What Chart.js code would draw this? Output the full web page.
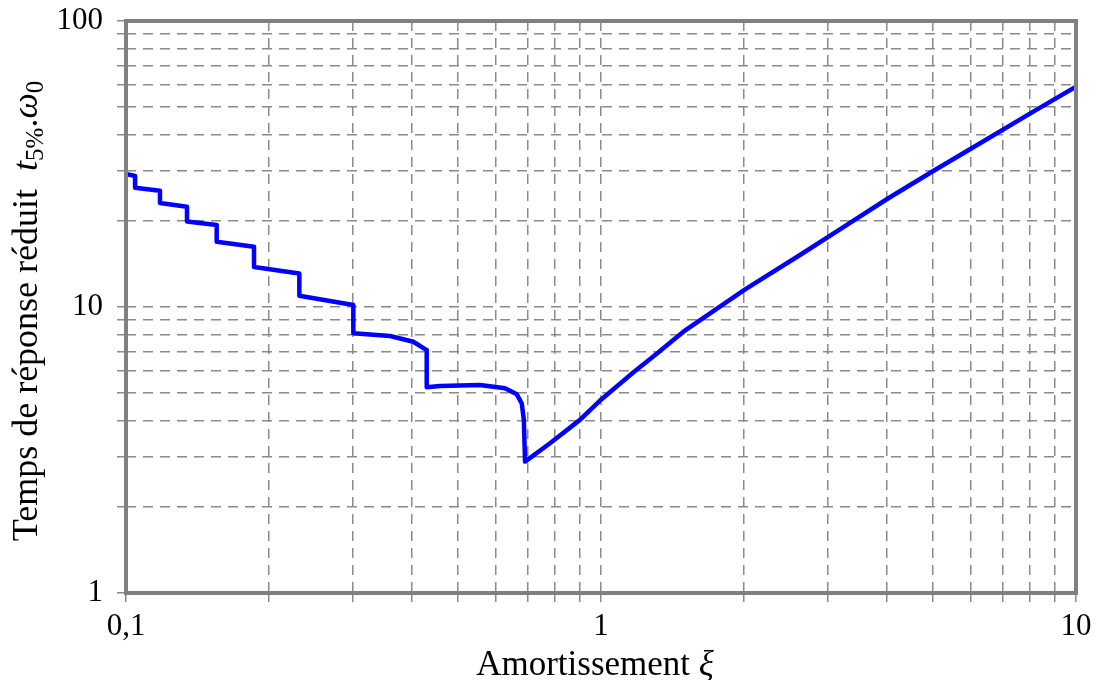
<!DOCTYPE html>
<html lang="fr">
<head>
    <meta charset="UTF-8">
    <title>Temps de réponse réduit</title>
    <script src="https://cdn.jsdelivr.net/npm/chart.js"></script>
    <style>
        html, body { margin: 0; padding: 0; background: #fff; }
        #wrap { width: 1098px; height: 680px; }
    </style>
</head>
<body>
    <div id="wrap"><canvas id="settlingChart" width="1098" height="680"></canvas></div>

    <script>
    // amortissement xi and reduced 5% settling time t5%.w0
    const dampingXi = [0.1, 0.1045, 0.1045, 0.1179, 0.1179, 0.1344, 0.1344, 0.1552, 0.1552, 0.186, 0.186,
        0.2317, 0.2317, 0.301, 0.301, 0.3596, 0.4025, 0.4296, 0.4296, 0.458, 0.556, 0.628, 0.665, 0.681, 0.688, 0.692,
        0.781, 0.903, 1.0, 1.169, 1.3, 1.491, 2.011, 2.624, 3.344, 4.026, 5.006, 6.08, 8.13, 10];
    const responseTime = [29.2, 28.7, 26.1, 25.5, 23.1, 22.4, 19.9, 19.35, 16.9, 16.25, 13.8,
        13.1, 10.95, 10.16, 8.09, 7.92, 7.56, 7.07, 5.24, 5.29, 5.34, 5.2, 4.95, 4.6, 4.03, 2.88,
        3.34, 4.03, 4.74, 5.9, 6.8, 8.2, 11.53, 15.2, 19.7, 24.0, 29.9, 36.2, 48.2, 58.9];

    const xDecades = [0.1, 1, 10];
    const yDecades = [1, 10, 100];
    const xLabels = {0.1: '0,1', 1: '1', 10: '10'};
    const yLabels = {1: '1', 10: '10', 100: '100'};

    const serif = "'Liberation Serif', 'Times New Roman', serif";
    const gridColor = '#8a8a8a';

    function logTicks(decades) {
        let out = [];
        for (let i = 0; i < decades.length - 1; i++) {
            for (let m = 1; m <= 9; m++) out.push({value: Number((m * decades[i]).toPrecision(3))});
        }
        out.push({value: decades[decades.length - 1]});
        return out;
    }

    // frame + axis titles with math parts
    const framePlugin = {
        id: 'frame',
        afterDatasetsDraw(chart) {
            const a = chart.chartArea, ctx = chart.ctx;
            ctx.save();
            ctx.strokeStyle = '#808080';
            ctx.lineWidth = 4;
            ctx.strokeRect(a.left, a.top, a.right - a.left, a.bottom - a.top);
            ctx.restore();
        },
        afterDraw(chart) {
            const a = chart.chartArea, ctx = chart.ctx;
            const drawPieces = (pieces, cx, baseY) => {
                let total = 0;
                pieces.forEach(p => { ctx.font = p.font; p.w = ctx.measureText(p.text).width; total += p.w; });
                let x = cx - total / 2;
                pieces.forEach(p => {
                    ctx.font = p.font;
                    ctx.fillText(p.text, x, baseY + (p.dy || 0));
                    x += p.w;
                });
            };
            ctx.save();
            ctx.fillStyle = '#000';
            ctx.textBaseline = 'alphabetic';
            ctx.textAlign = 'left';
            drawPieces([
                {text: 'Amortissement ', font: '35px ' + serif},
                {text: 'ξ', font: 'italic 35px ' + serif}
            ], 595, 675);

            ctx.translate(37, (a.top + a.bottom) / 2 + 4);
            ctx.rotate(-Math.PI / 2);
            drawPieces([
                {text: 'Temps de réponse réduit  ', font: '36px ' + serif},
                {text: 't', font: 'italic 36px ' + serif},
                {text: '5%', font: '25px ' + serif, dy: 6},
                {text: '.', font: '36px ' + serif},
                {text: 'ω', font: 'italic 36px ' + serif},
                {text: '0', font: '25px ' + serif, dy: 6}
            ], 0, 0);
            ctx.restore();
        }
    };

    const ctx = document.getElementById('settlingChart').getContext('2d');
    new Chart(ctx, {
        type: 'scatter',
        data: {
            datasets: [{
                label: 't5%.w0',
                data: dampingXi.map((x, i) => ({x: x, y: responseTime[i]})),
                showLine: true,
                borderColor: '#0000ff',
                borderWidth: 4.5,
                pointRadius: 0,
                tension: 0,
                borderJoinStyle: 'round',
                fill: false
            }]
        },
        options: {
            responsive: false,
            animation: false,
            layout: { padding: { left: 0, right: 22, top: 21, bottom: 0 } },
            plugins: { legend: { display: false }, tooltip: { enabled: false } },
            scales: {
                x: {
                    type: 'logarithmic',
                    min: 0.1, max: 10,
                    afterBuildTicks: s => { s.ticks = logTicks(xDecades); },
                    afterFit: s => { s.height = 87; s.paddingLeft = 0; s.paddingRight = 0; },
                    grid: { color: gridColor, lineWidth: 1.5, tickLength: 9, tickColor: gridColor },
                    border: { display: false, dash: [10, 7] },
                    ticks: {
                        autoSkip: false, maxRotation: 0, padding: 6, color: '#000',
                        font: { family: serif, size: 31 },
                        callback: v => xLabels[v] || ''
                    }
                },
                y: {
                    type: 'logarithmic',
                    min: 1, max: 100,
                    afterBuildTicks: s => { s.ticks = logTicks(yDecades); },
                    afterFit: s => { s.width = 126; s.paddingTop = 0; s.paddingBottom = 0; },
                    grid: { color: gridColor, lineWidth: 1.5, tickLength: 9, tickColor: gridColor },
                    border: { display: false, dash: [10, 7] },
                    ticks: {
                        autoSkip: false, padding: 14, color: '#000',
                        font: { family: serif, size: 31 },
                        callback: v => yLabels[v] || ''
                    }
                }
            }
        },
        plugins: [framePlugin]
    });
    </script>
</body>
</html>
